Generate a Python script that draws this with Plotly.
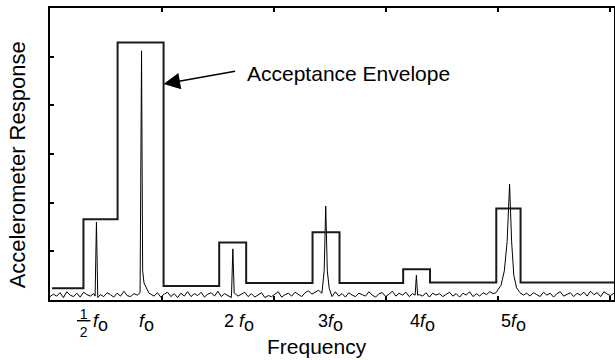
import numpy as np
import plotly.graph_objects as go

# ---------------- data ----------------
f0 = 82  # fundamental frequency (axis units)

# acceptance envelope (step levels, held from each x to the next)
env_x = [1.8, 29.9, 60.4, 101.5, 151.2, 175.3, 234.6, 258.7, 315.6, 339.6, 398.8, 420.5, 504]
env_y = [0.24, 1.66, 5.29, 0.29, 1.18, 0.35, 1.39, 0.35, 0.63, 0.36, 1.88, 0.36, 0.36]

# background noise of the accelerometer response, sampled every 3 units from 0 to 504
noise_step = 3
noise_y = [
    0.07, 0.12, 0.08, 0.15, 0.05, 0.17, 0.10, 0.07, 0.14, 0.06, 0.16, 0.11, 0.08,
    0.13, 0.05, 0.11, 0.07, 0.15, 0.11, 0.06, 0.14, 0.08, 0.18, 0.09, 0.07, 0.13,
    0.10, 0.15, 0.22, 0.16, 0.12, 0.08, 0.15, 0.06, 0.12, 0.16, 0.07, 0.13, 0.05,
    0.14, 0.08, 0.17, 0.07, 0.13, 0.09, 0.16, 0.06, 0.12, 0.15, 0.08, 0.18, 0.07,
    0.13, 0.09, 0.05, 0.14, 0.08, 0.12, 0.16, 0.07, 0.13, 0.06, 0.11, 0.15, 0.05,
    0.09, 0.07, 0.13, 0.17, 0.06, 0.11, 0.14, 0.08, 0.16, 0.11, 0.07, 0.15, 0.19,
    0.12, 0.16, 0.20, 0.14, 0.10, 0.14, 0.07, 0.17, 0.08, 0.13, 0.06, 0.15, 0.10,
    0.07, 0.14, 0.11, 0.08, 0.17, 0.10, 0.06, 0.13, 0.15, 0.07, 0.12, 0.18, 0.08,
    0.14, 0.10, 0.16, 0.07, 0.13, 0.19, 0.11, 0.08, 0.15, 0.06, 0.14, 0.10, 0.13,
    0.07, 0.12, 0.16, 0.08, 0.13, 0.06, 0.14, 0.10, 0.17, 0.07, 0.13, 0.08, 0.15,
    0.11, 0.17, 0.13, 0.19, 0.16, 0.21, 0.18, 0.14, 0.20, 0.12, 0.16, 0.10, 0.14,
    0.08, 0.15, 0.11, 0.07, 0.16, 0.10, 0.14, 0.06, 0.13, 0.17, 0.08, 0.12, 0.15,
    0.07, 0.14, 0.10, 0.16, 0.08, 0.18, 0.11, 0.15, 0.07, 0.17, 0.12, 0.09, 0.14,
]

# response peaks at the harmonics (x and y samples of each peak)
peak_half_x = [40.3, 41.5, 42.7]
peak_half_y = [0.08, 1.60, 0.05]
peak_1_x = [80.5, 81.8, 82.8, 84.0, 86.0, 88.5]
peak_1_y = [0.15, 5.12, 0.60, 0.35, 0.24, 0.14]
peak_2_x = [162.2, 163.4, 164.6]
peak_2_y = [0.10, 1.05, 0.14]
peak_3_x = [243.5, 245.0, 246.4, 247.8, 249.5]
peak_3_y = [0.25, 0.60, 1.93, 0.60, 0.24]
peak_4_x = [326.3, 327.4, 328.5]
peak_4_y = [0.10, 0.51, 0.10]
peak_5_x = [398.5, 403.0, 406.0, 408.5, 410.7, 412.5, 414.5, 417.0, 420.0]
peak_5_y = [0.15, 0.30, 0.60, 1.20, 2.38, 1.20, 0.50, 0.25, 0.15]

harmonics = [0.5, 1, 2, 3, 4, 5]
harmonic_text = ["<i>f</i>", "<i>f</i>", "2 <i>f</i>", "3<i>f</i>", "4<i>f</i>", "5<i>f</i>"]
half_fraction = "<u>\u20091\u2009</u><br>2"

y_ticks = [1, 2, 3, 4, 5]
x_ticks = [100, 200, 300, 400, 500]

x_title = "Frequency"
y_title = "Accelerometer Response"
envelope_label = "Acceptance Envelope"

# ---------------- build response series ----------------
noise_x = list(np.arange(len(noise_y)) * noise_step)
points = list(zip(noise_x, noise_y))
peaks = [(peak_half_x, peak_half_y), (peak_1_x, peak_1_y), (peak_2_x, peak_2_y),
         (peak_3_x, peak_3_y), (peak_4_x, peak_4_y), (peak_5_x, peak_5_y)]
for px, py in peaks:
    lo, hi = min(px), max(px)
    points = [p for p in points if not (lo <= p[0] <= hi)]
    points += list(zip(px, py))
points.sort(key=lambda p: p[0])
resp_x = [p[0] for p in points]
resp_y = [p[1] for p in points]

FONT = "Liberation Sans, Arial, Helvetica, sans-serif"

fig = go.Figure()
fig.add_trace(go.Scatter(x=resp_x, y=resp_y, mode="lines",
                         line=dict(color="black", width=1), hoverinfo="skip"))
fig.add_trace(go.Scatter(x=env_x, y=env_y, mode="lines", line_shape="hv",
                         line=dict(color="#1a1a1a", width=2), hoverinfo="skip"))

annotations = []
# harmonic labels under the axis
for h, t in zip(harmonics, harmonic_text):
    annotations.append(dict(
        x=h * f0 + 4.5, y=-0.030, xref="x", yref="paper", xanchor="center", yanchor="top",
        text=t + "<sub><span style='font-size:18px'>o</span></sub>",
        showarrow=False, font=dict(family=FONT, size=18, color="black")))
# the 1/2 fraction
annotations.append(dict(x=harmonics[0] * f0 - 11.5, y=-0.078, xref="x", yref="paper",
                        xanchor="center", yanchor="middle", text=half_fraction,
                        showarrow=False, font=dict(family=FONT, size=14, color="black")))
# arrow to the envelope
annotations.append(dict(x=env_x[3], y=4.44, xref="x", yref="y", text="",
                        showarrow=True, arrowhead=2, arrowsize=2.2, arrowwidth=1.5,
                        arrowcolor="black", ax=73, ay=-13, axref="pixel", ayref="pixel"))
annotations.append(dict(x=174, y=4.66, xref="x", yref="y", xanchor="left", yanchor="middle",
                        text=envelope_label, showarrow=False,
                        font=dict(family=FONT, size=21, color="black")))
# axis titles
annotations.append(dict(x=0.474, y=-0.158, xref="paper", yref="paper",
                        xanchor="center", yanchor="middle", text=x_title, showarrow=False,
                        font=dict(family=FONT, size=21, color="black")))
annotations.append(dict(x=-0.057, y=0.464, xref="paper", yref="paper", textangle=-90,
                        xanchor="center", yanchor="middle", text=y_title, showarrow=False,
                        font=dict(family=FONT, size=22, color="black")))

fig.update_layout(
    width=615, height=360,
    margin=dict(l=50, r=1, t=8, b=60, autoexpand=False),
    plot_bgcolor="white", paper_bgcolor="white",
    showlegend=False,
    font=dict(family=FONT, color="black"),
    annotations=annotations,
    xaxis=dict(range=[0, 504], showgrid=False, zeroline=False, automargin=False,
               showline=True, linecolor="black", linewidth=2, mirror="ticks",
               ticks="inside", ticklen=4, tickwidth=1.5, tickcolor="black",
               tickvals=x_ticks, showticklabels=False),
    yaxis=dict(range=[0, 6], showgrid=False, zeroline=False, automargin=False,
               showline=True, linecolor="black", linewidth=2, mirror=True,
               ticks="inside", ticklen=4, tickwidth=1.5, tickcolor="black",
               tickvals=y_ticks, showticklabels=False),
)

fig.write_html("out.html", config={"displayModeBar": False},
               post_script="document.body.style.margin='0px';document.body.style.overflow='hidden';")
